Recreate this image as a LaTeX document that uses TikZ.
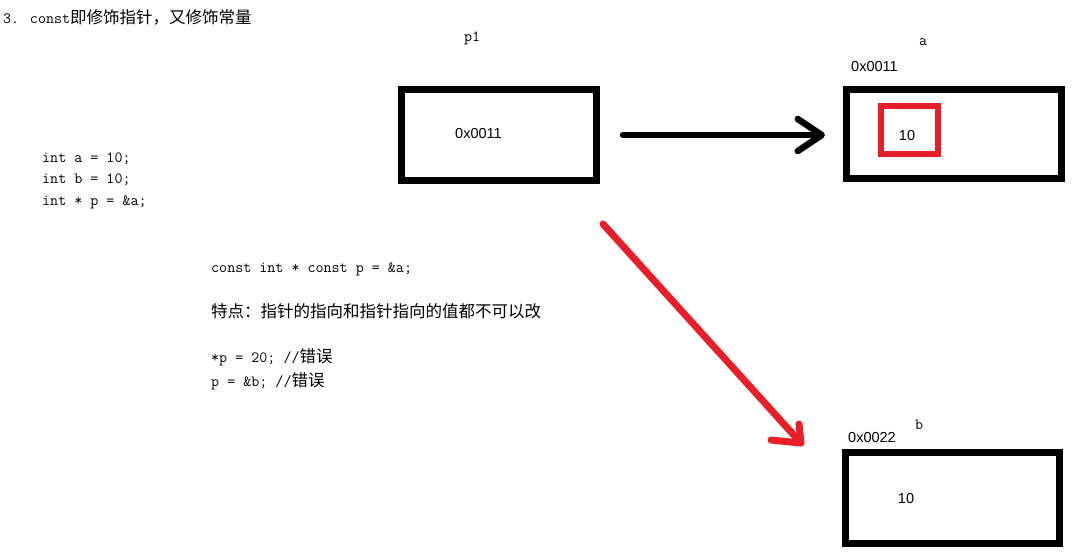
\documentclass[tikz,border=0pt]{standalone}
\usepackage{fontspec}
\setmainfont{Liberation Sans}
\newfontfamily\cjkf{Noto Sans CJK SC}
\usetikzlibrary{arrows.meta,calc}
\definecolor{penred}{RGB}{232,30,40}
\newcommand{\zh}[1]{{\cjkf\fontsize{16.5}{18}\selectfont #1}}
\begin{document}
\begin{tikzpicture}[x=1pt,y=-1pt,
  code/.style={font=\ttfamily\fontsize{15.6}{18}\selectfont, inner sep=0pt, anchor=base west},
  lbl/.style={font=\fontsize{14.5}{16}\selectfont, inner sep=0pt, anchor=base west},
  memcell/.style={draw, line width=7pt, inner sep=0pt},
  redcell/.style={draw=penred, line width=6pt, inner sep=0pt},
  blk/.style={line width=6.5pt, line cap=round, line join=round},
  redpen/.style={draw=penred, line width=7pt, line cap=round, line join=round}]
\useasboundingbox (0,0) rectangle (1076,558);

% title
\node[code] (title) at (3,23.5) {3. const\zh{即修饰指针，又修饰常量}};

% left code
\node[code] (c1) at (42,162) {int a = 10;};
\node[code] (c2) at (42,183.5) {int b = 10;};
\node[code] (c3) at (42,205) {int * p = \&a;};

% middle code and notes
\node[code] (c4) at (211,272.5) {const int * const p = \&a;};
\node[code] (c5) at (211,317) {\zh{特点：指针的指向和指针指向的值都不可以改}};
\node[code] (c6) at (211,362) {*p = 20; //\zh{错误}};
\node[code] (c7) at (211,386.5) {p = \&b; //\zh{错误}};

% memory boxes
\node[memcell, minimum width=195pt, minimum height=91pt] (p1box) at (499,135) {};
\node[memcell, minimum width=215pt, minimum height=89pt] (abox) at (954,134) {};
\node[redcell, minimum width=57pt, minimum height=48pt] (aval) at (909.5,130) {};
\node[memcell, minimum width=214pt, minimum height=91pt] (bbox) at (952.5,498) {};

% labels
\node[code] (p1name) at (464,41) {p1};
\node[lbl] (p1val) at (455,138) {0x0011};
\node[code] (aname) at (919,45) {a};
\node[lbl] (aaddr) at (851,71) {0x0011};
\node[lbl, anchor=base] (aten) at (907,140) {10};
\node[code] (bname) at (915,429) {b};
\node[lbl] (baddr) at (848,442) {0x0022};
\node[lbl, anchor=base] (bten) at (906,503) {10};

% black arrow p1 -> a
\draw[blk, shorten <=23pt, shorten >=18pt, -{Straight Barb[length=24pt,width=32pt,round]}]
  (p1box.east) -- (p1box.east -| abox.west);

% red arrow toward b
\coordinate (rstart) at ($(p1box.south east)+(3,40)$);
\coordinate (rend) at ($(bbox.north west)+(-41,-6)$);
\draw[redpen] (rstart) -- (rend);
\draw[redpen] ($(rend)+(-30,-3)$) -- (rend) -- ($(rend)+(-2,-19)$);
\end{tikzpicture}
\end{document}
